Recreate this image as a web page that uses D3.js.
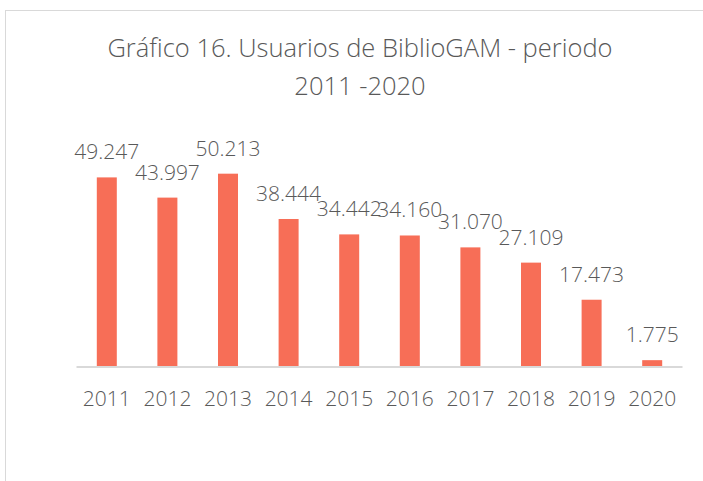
<!DOCTYPE html>
<html>
<head>
<meta charset="utf-8">
<script src="https://cdn.jsdelivr.net/npm/d3@7"></script>
<style>
  html, body { margin: 0; padding: 0; background: #ffffff; }
  svg { display: block; }
</style>
</head>
<body>
<svg id="chart" width="703" height="481"></svg>
<script>
const titleLines = ["Gráfico 16. Usuarios de BiblioGAM - periodo", "2011 -2020"];
const years = ["2011", "2012", "2013", "2014", "2015", "2016", "2017", "2018", "2019", "2020"];
const users = [49247, 43997, 50213, 38444, 34442, 34160, 31070, 27109, 17473, 1775];
const valueLabels = ["49.247", "43.997", "50.213", "38.444", "34.442", "34.160", "31.070", "27.109", "17.473", "1.775"];

const svg = d3.select("#chart");
const font = "'Open Sans', 'DejaVu Sans', sans-serif";
const textColor = "#595959";

// chart area border
svg.append("rect")
  .attr("x", 5.5).attr("y", 10.5)
  .attr("width", 720).attr("height", 500)
  .attr("fill", "#ffffff")
  .attr("stroke", "#d9d9d9")
  .attr("stroke-width", 1);

// title
svg.append("g").selectAll("text")
  .data(titleLines)
  .join("text")
  .attr("x", 360)
  .attr("y", (d, i) => 57 + i * 38)
  .attr("text-anchor", "middle")
  .attr("font-family", font)
  .attr("font-weight", 300)
  .attr("font-size", 25.5)
  .attr("fill", textColor)
  .text(d => d);

const x = d3.scaleBand()
  .domain(years)
  .range([76.5, 682.5])
  .paddingInner(0.67)
  .paddingOuter(0.335);

const y = d3.scaleLinear()
  .domain([0, 60000])
  .range([367, 136]);

// bars
svg.append("g").selectAll("rect")
  .data(users)
  .join("rect")
  .attr("x", (d, i) => x(years[i]) + x.bandwidth() / 2 - 10)
  .attr("width", 20)
  .attr("y", d => y(d))
  .attr("height", d => y(0) - y(d))
  .attr("fill", "#f76e57");

// axis
const xAxis = d3.axisBottom(x).tickSize(0).tickPadding(24);
const axisG = svg.append("g")
  .attr("transform", `translate(0,${y(0)})`)
  .call(xAxis);
axisG.select(".domain")
  .attr("stroke", "#d9d9d9")
  .attr("stroke-width", 2)
  .attr("d", `M76.5,0H682.5`);
axisG.selectAll("text")
  .attr("font-family", font)
  .attr("font-weight", 300)
  .attr("font-size", 21)
  .attr("fill", textColor)
  .attr("dy", "0.71em");

// data labels
svg.append("g").selectAll("text")
  .data(users)
  .join("text")
  .attr("x", (d, i) => x(years[i]) + x.bandwidth() / 2)
  .attr("y", d => y(d) - 18)
  .attr("text-anchor", "middle")
  .attr("font-family", font)
  .attr("font-weight", 300)
  .attr("font-size", 21)
  .attr("fill", textColor)
  .text((d, i) => valueLabels[i]);
</script>
</body>
</html>
